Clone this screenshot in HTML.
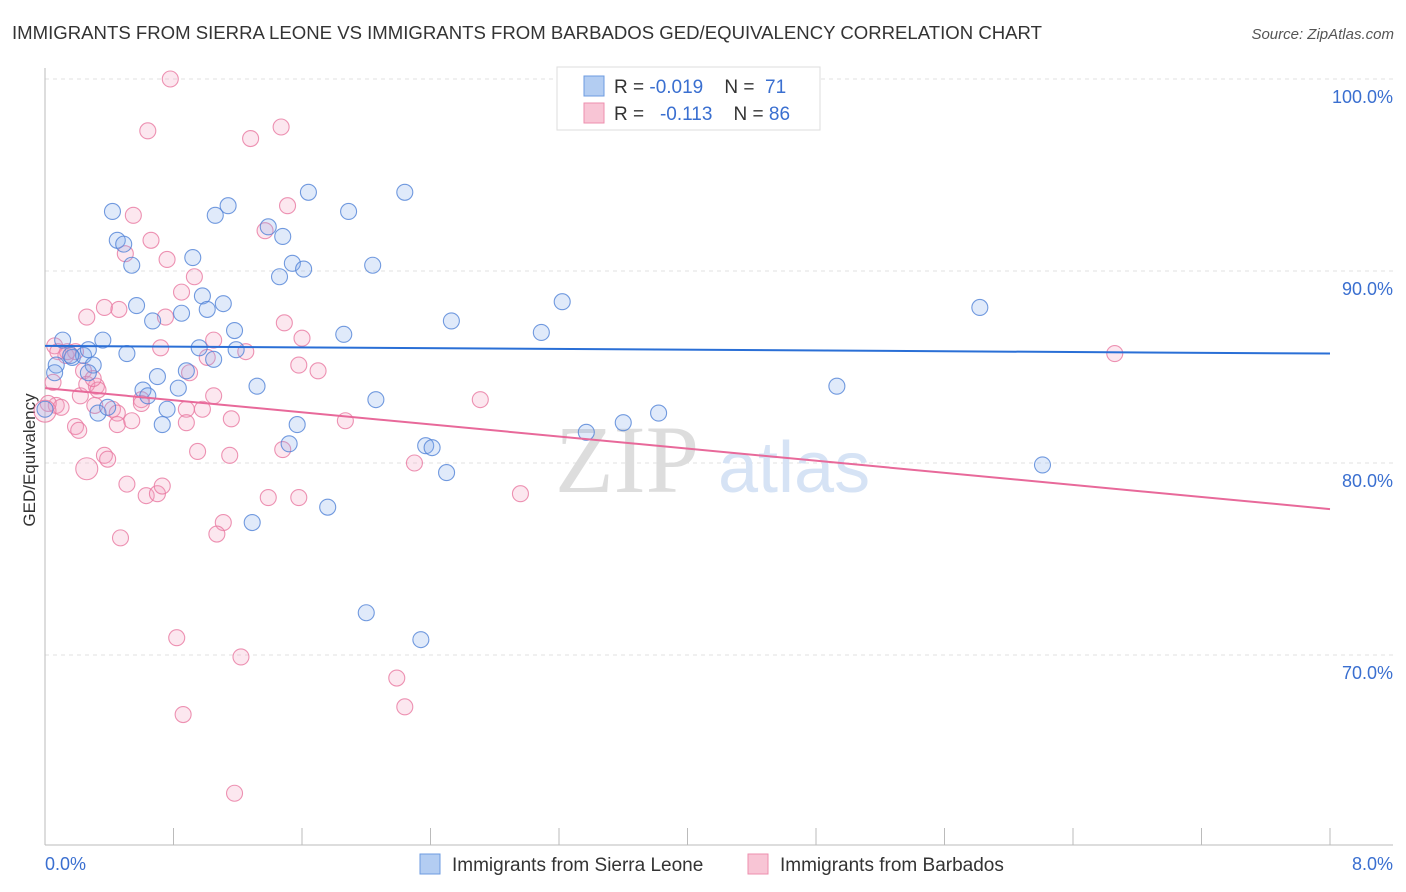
<!DOCTYPE html>
<html><head><meta charset="utf-8"><style>
body{margin:0;background:#fff;font-family:"Liberation Sans",sans-serif;}
#wrap{position:relative;width:1406px;height:892px;overflow:hidden;}
</style></head><body>
<div id="wrap">
<svg id="svg" width="1406" height="892" xmlns="http://www.w3.org/2000/svg">
<text x="12" y="39" font-size="18" fill="#333" textLength="1030" lengthAdjust="spacingAndGlyphs">IMMIGRANTS FROM SIERRA LEONE VS IMMIGRANTS FROM BARBADOS GED/EQUIVALENCY CORRELATION CHART</text>
<text x="1394" y="39" font-size="15" fill="#555" font-style="italic" text-anchor="end">Source: ZipAtlas.com</text>
<text x="35" y="460" font-size="17" fill="#333" transform="rotate(-90 35 460)" text-anchor="middle">GED/Equivalency</text>
<g id="grid"></g>
<text x="555" y="492" font-size="96" fill="#ddd" font-family="Liberation Serif,serif">ZIP</text>
<text x="718" y="492" font-size="72" fill="#d6e3f5">atlas</text>
<g id="pts"></g>
<g id="trend"></g>
<g>
<rect x="557" y="67" width="263" height="63" fill="#fff" stroke="#ddd"/>
<rect x="584" y="76" width="20" height="20" fill="#b3cdf2" stroke="#6c9be0"/>
<text x="614" y="93" font-size="19" fill="#333" xml:space="preserve">R = <tspan fill="#3a6fd0">-0.019</tspan>    N =  <tspan fill="#3a6fd0">71</tspan></text>
<rect x="584" y="103" width="20" height="20" fill="#f8c5d5" stroke="#ee8fae"/>
<text x="614" y="120" font-size="19" fill="#333" xml:space="preserve">R =   <tspan fill="#3a6fd0">-0.113</tspan>    N = <tspan fill="#3a6fd0">86</tspan></text>
</g>
<g>
<rect x="420" y="854" width="20" height="20" fill="#b3cdf2" stroke="#6c9be0"/>
<text x="452" y="871" font-size="19" fill="#333">Immigrants from Sierra Leone</text>
<rect x="748" y="854" width="20" height="20" fill="#f8c5d5" stroke="#ee8fae"/>
<text x="780" y="871" font-size="19" fill="#333">Immigrants from Barbados</text>
</g>
<text x="45" y="870" font-size="18" fill="#3a6fd0">0.0%</text>
<text x="1393" y="870" font-size="18" fill="#3a6fd0" text-anchor="end">8.0%</text>
</svg>
</div>
<script>
const yTicks=[100,90,80,70];
const xTicks=[0,0.8,1.6,2.4,3.2,4.0,4.8,5.6,6.4,7.2,8.0];
const blueX=[.42,.45,.49,.54,.57,.67,.85,.92,.98,1.01,1.06,1.14,1.11,1.18,1.39,1.48,1.54,1.61,1.46,1.64,1.89,2.04,2.24,1.86,2.53,3.09,3.22,5.82,4.33,3.34,.11,.07,.17,.24,.30,.27,.36,.51,.61,.70,.64,.76,.73,.83,.88,.96,1.05,1.19,1.32,2.06,1.57,1.52,1.76,1.29,2.37,2.41,2.50,2.00,2.34,3.37,3.60,3.82,4.93,6.21,0.0,.06,.33,.39,.27,.16];
const blueY=[93.1,91.6,91.4,90.3,88.2,87.4,87.8,90.7,88.7,88.0,92.9,93.4,88.3,86.9,92.3,91.8,90.4,90.1,89.7,94.1,93.1,90.3,94.1,86.7,87.4,86.8,88.4,88.1,99.9,99.9,86.4,85.1,85.5,85.6,85.1,84.7,86.4,85.7,83.8,84.5,83.5,82.8,82.0,83.9,84.8,86.0,85.4,85.9,84.0,83.3,82.0,81.0,77.7,76.9,80.9,80.8,79.5,72.2,70.8,81.6,82.1,82.6,84.0,79.9,82.8,84.7,82.6,82.9,85.9,85.6];
const pinkX=[.78,.64,1.28,1.47,.55,.66,.76,.93,.85,.50,1.37,1.51,.26,.37,.46,.75,.72,1.05,1.25,1.49,1.60,1.58,1.70,1.01,.90,.06,.13,.19,.24,.32,.22,.05,.07,.10,.19,.21,.31,.42,.45,.45,.54,.60,.60,.88,.88,.98,1.05,1.16,1.15,.95,.37,.39,.26,.51,.63,.70,.73,1.11,1.07,.47,1.39,1.58,1.48,1.87,2.30,2.71,2.96,.82,1.22,.86,2.19,2.24,1.18,6.66,.14,.02,.26,.33,.30,.08,0.0];
const pinkY=[100,97.3,96.9,97.5,92.9,91.6,90.6,89.7,88.9,90.9,92.1,93.4,87.6,88.1,88.0,87.6,86.0,86.4,85.8,87.3,86.5,85.1,84.8,85.5,84.7,86.1,85.6,85.8,84.8,84.0,83.5,84.2,83.0,82.9,81.9,81.7,83.0,82.8,82.6,82.0,82.2,83.3,83.1,82.8,82.1,82.8,83.5,82.3,80.4,80.6,80.4,80.2,79.7,78.9,78.3,78.4,78.8,76.9,76.3,76.1,78.2,78.2,80.7,82.2,80.0,83.3,78.4,70.9,69.9,66.9,68.8,67.3,62.8,85.7,85.8,83.1,84.1,83.8,84.4,85.8,82.7];
const trendBlue=[86.1,85.7];
const trendPink=[83.9,77.6];
const NS='http://www.w3.org/2000/svg';
const xs=v=>45+v/8*1285;
const ys=v=>79+(100-v)*19.2;
function mk(tag,attrs,parent){const e=document.createElementNS(NS,tag);for(const k in attrs)e.setAttribute(k,attrs[k]);parent.appendChild(e);return e;}
const grid=document.getElementById('grid');
yTicks.forEach(t=>{
 const l=mk('line',{x1:45,x2:1393,y1:ys(t),y2:ys(t),stroke:'#e2e2e2','stroke-dasharray':'4,4'},grid);
 
 
 const tx=mk('text',{x:1393,y:ys(t)+24,'font-size':18,fill:'#3a6fd0','text-anchor':'end'},grid);
 tx.textContent=t.toFixed(1)+'%';
 
 
});
const ax=mk('line',{x1:45,x2:45,y1:68,y2:845,stroke:'#bbb'},grid);


const bx=mk('line',{x1:45,x2:1393,y1:845,y2:845,stroke:'#bbb'},grid);


xTicks.forEach(t=>{
 const l=mk('line',{x1:xs(t),x2:xs(t),y1:828,y2:845,stroke:'#bbb'},grid);
 
 
});
const pts=document.getElementById('pts');
pinkX.forEach((x,i)=>{
 const big=(i===52||i===pinkX.length-1);
 const c=mk('circle',{cx:xs(x),cy:ys(pinkY[i]),r:big?11:8,fill:'rgba(244,160,190,0.25)',stroke:'rgba(232,120,160,0.8)','stroke-width':1.1},pts);
 
 
});
blueX.forEach((x,i)=>{
 const c=mk('circle',{cx:xs(x),cy:ys(blueY[i]),r:8,fill:'rgba(130,170,235,0.25)',stroke:'rgba(80,130,215,0.8)','stroke-width':1.1},pts);
 
 
});
const tr=document.getElementById('trend');
const tb=mk('line',{x1:xs(0),y1:ys(trendBlue[0]),x2:xs(8),y2:ys(trendBlue[1]),stroke:'#2a6fd6','stroke-width':2},tr);


const tp=mk('line',{x1:xs(0),y1:ys(trendPink[0]),x2:xs(8),y2:ys(trendPink[1]),stroke:'#e8699a','stroke-width':2},tr);


</script>
</body></html>
